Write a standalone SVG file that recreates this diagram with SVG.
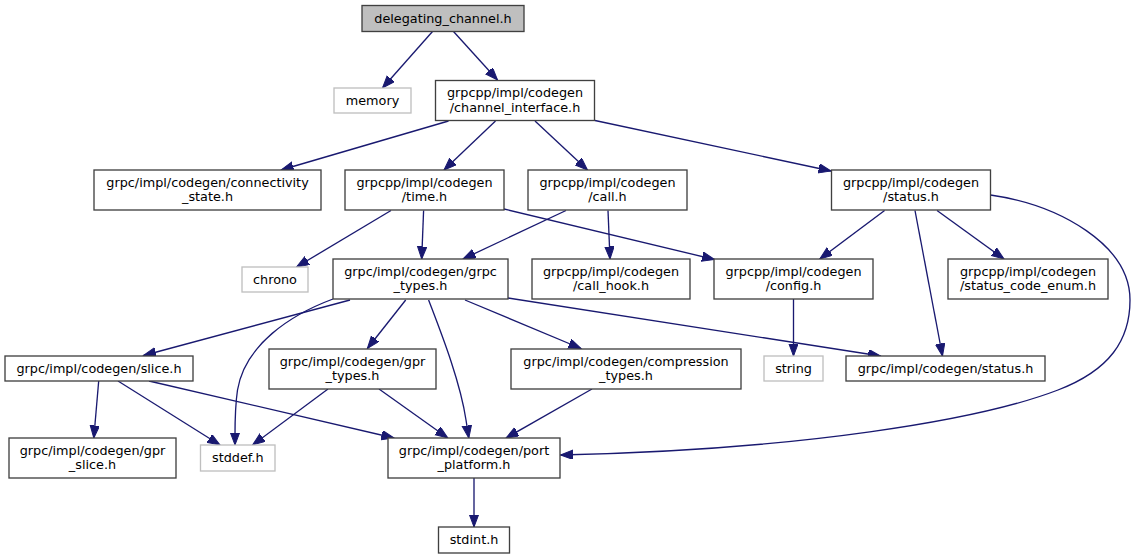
<svg xmlns="http://www.w3.org/2000/svg" width="1135" height="559" viewBox="0 0 1135 559">
<style>
.n rect{fill:#ffffff;stroke:#404040;stroke-width:1.33}
.g rect{fill:#ffffff;stroke:#bfbfbf;stroke-width:1.33}
.root rect{fill:#bfbfbf;stroke:#404040;stroke-width:1.33}
text{font-family:"DejaVu Sans",sans-serif;font-size:12.8px;fill:#000000;text-anchor:middle}
#edges path{fill:none;stroke:#191970;stroke-width:1.33;marker-end:url(#ah)}
</style>
<defs>
<marker id="ah" markerUnits="userSpaceOnUse" markerWidth="14" markerHeight="11" refX="12.5" refY="4.7" orient="auto">
<path d="M0,0 L12.5,4.7 L0,9.4 z" fill="#191970" stroke="#191970" stroke-width="1"/>
</marker>
</defs>
<rect width="1135" height="559" fill="#ffffff"/>
<g id="edges">
<path d="M432.5,31.5 L382.5,88"/>
<path d="M453.5,31.5 L497.5,80"/>
<path d="M448.5,121 L281,170"/>
<path d="M495.5,121 L444,170"/>
<path d="M535,121 L587.5,170"/>
<path d="M595,120.5 L831,171"/>
<path d="M391,210.5 L296.5,267"/>
<path d="M423.6,210.5 L421.7,259"/>
<path d="M504,209 L714.5,259.5"/>
<path d="M566,210.5 L463,259"/>
<path d="M608,210.5 L610,259"/>
<path d="M884.6,210.5 L819.8,259"/>
<path d="M937,210.5 L1004,259"/>
<path d="M915,210.5 L942.5,356"/>
<path d="M990.5,195 C1060,205 1130,245 1130,300 C1130,340 1110,370 1058,390 C980,420 800,450 560.5,455"/>
<path d="M350,300 L143.5,355.5"/>
<path d="M333,299 C290,315 245,345 237.5,390 C234.5,410 235,430 235,445"/>
<path d="M405.7,300 L367.4,348.5"/>
<path d="M428.6,300 C440,330 460,380 466,420 L468.8,438"/>
<path d="M465,300 L581,348.5"/>
<path d="M508,298 L880.6,356"/>
<path d="M793.5,299 L793.5,356"/>
<path d="M98.7,381 L93.8,438"/>
<path d="M118,381 L220,445"/>
<path d="M149,381 L394,438"/>
<path d="M328,389 L252.6,445"/>
<path d="M379,389 L447.8,438"/>
<path d="M592,389 L506,438"/>
<path d="M474,478 L474,527"/>
</g>
<g id="n1" class="root"><rect x="362" y="5.5" width="162" height="26"/><text x="443" y="22.5">delegating_channel.h</text></g>
<g id="n2" class="g"><rect x="334" y="88" width="77" height="25"/><text x="372.5" y="105">memory</text></g>
<g id="n3" class="n"><rect x="435.5" y="80.5" width="159" height="40"/><text x="515" y="97">grpcpp/impl/codegen</text><text x="515" y="111.5">/channel_interface.h</text></g>
<g id="n4" class="n"><rect x="94" y="170" width="227" height="40"/><text x="207.5" y="186.5">grpc/impl/codegen/connectivity</text><text x="207.5" y="201">_state.h</text></g>
<g id="n5" class="n"><rect x="345" y="170" width="159" height="40"/><text x="424.5" y="186.5">grpcpp/impl/codegen</text><text x="424.5" y="201">/time.h</text></g>
<g id="n6" class="n"><rect x="528" y="170" width="159" height="40"/><text x="607.5" y="186.5">grpcpp/impl/codegen</text><text x="607.5" y="201">/call.h</text></g>
<g id="n7" class="n"><rect x="831.5" y="170" width="159" height="40"/><text x="911" y="186.5">grpcpp/impl/codegen</text><text x="911" y="201">/status.h</text></g>
<g id="n8" class="g"><rect x="242" y="267" width="66" height="25"/><text x="275" y="284">chrono</text></g>
<g id="n9" class="n"><rect x="333" y="259" width="175" height="40"/><text x="420.5" y="275.5">grpc/impl/codegen/grpc</text><text x="420.5" y="290">_types.h</text></g>
<g id="n10" class="n"><rect x="532" y="259" width="158" height="40"/><text x="611" y="275.5">grpcpp/impl/codegen</text><text x="611" y="290">/call_hook.h</text></g>
<g id="n11" class="n"><rect x="714" y="259" width="159" height="40"/><text x="793.5" y="275.5">grpcpp/impl/codegen</text><text x="793.5" y="290">/config.h</text></g>
<g id="n12" class="n"><rect x="948" y="259" width="160" height="40"/><text x="1028" y="275.5">grpcpp/impl/codegen</text><text x="1028" y="290">/status_code_enum.h</text></g>
<g id="n13" class="n"><rect x="5" y="356" width="188" height="25"/><text x="99" y="373">grpc/impl/codegen/slice.h</text></g>
<g id="n14" class="n"><rect x="269" y="349" width="167" height="40"/><text x="352.5" y="365.5">grpc/impl/codegen/gpr</text><text x="352.5" y="380">_types.h</text></g>
<g id="n15" class="n"><rect x="511" y="349" width="230" height="40"/><text x="626" y="365.5">grpc/impl/codegen/compression</text><text x="626" y="380">_types.h</text></g>
<g id="n16" class="g"><rect x="764" y="356" width="59" height="25"/><text x="793.5" y="373">string</text></g>
<g id="n17" class="n"><rect x="846" y="356" width="199" height="25"/><text x="945.5" y="373">grpc/impl/codegen/status.h</text></g>
<g id="n18" class="n"><rect x="9" y="438" width="167" height="40"/><text x="92.5" y="454.5">grpc/impl/codegen/gpr</text><text x="92.5" y="469">_slice.h</text></g>
<g id="n19" class="g"><rect x="200.5" y="445" width="74.5" height="26"/><text x="237.75" y="462">stddef.h</text></g>
<g id="n20" class="n"><rect x="388" y="438" width="172" height="40"/><text x="474" y="454.5">grpc/impl/codegen/port</text><text x="474" y="469">_platform.h</text></g>
<g id="n21" class="n"><rect x="438.5" y="527" width="71" height="26"/><text x="474" y="544">stdint.h</text></g>
</svg>
